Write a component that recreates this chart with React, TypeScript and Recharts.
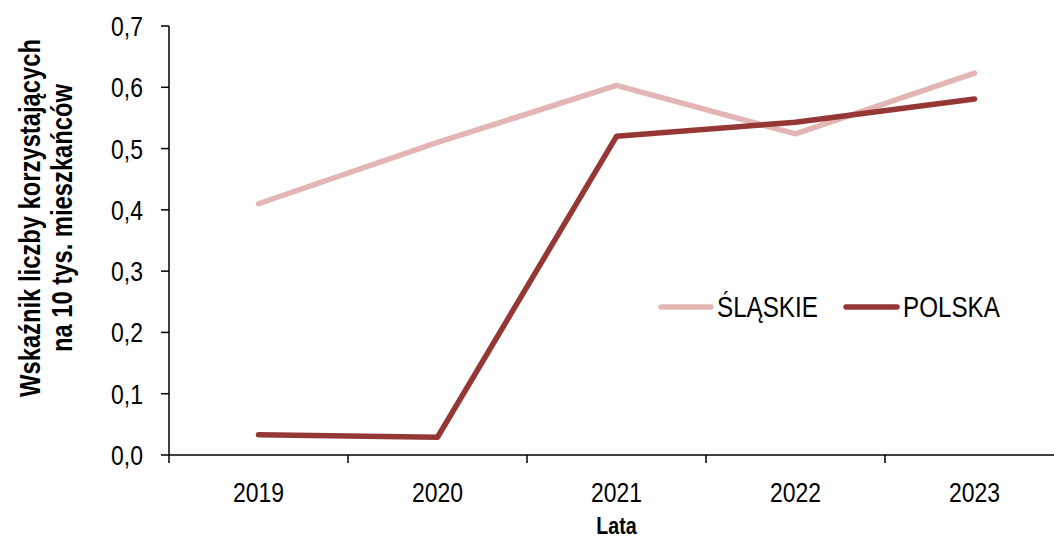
import { Line, LineChart, XAxis, YAxis } from "recharts"

const years = ["2019", "2020", "2021", "2022", "2023"]
const slaskie = [0.41, 0.51, 0.603, 0.524, 0.623]
const polska = [0.033, 0.029, 0.52, 0.543, 0.581]
const yTicks = [0, 0.1, 0.2, 0.3, 0.4, 0.5, 0.6, 0.7]
const seriesNames = ["ŚLĄSKIE", "POLSKA"]

const data = years.map((year, i) => ({ year, slaskie: slaskie[i], polska: polska[i] }))

const FONT = "'Liberation Sans', Arial, sans-serif"
const NARROW = 0.82
const PINK = "#E3B5B4"
const DARK = "#953735"

const W = 1064
const H = 540
const Y_AXIS_W = 169
const BAND = (W - Y_AXIS_W) / years.length

// Arial Narrow look: regular sans squeezed horizontally
const Narrow = ({ x, y, size, anchor = "start", bold = false, rotate = 0, children }: any) => (
	<text
		transform={`translate(${x},${y}) rotate(${rotate}) scale(${NARROW},1)`}
		textAnchor={anchor}
		fontFamily={FONT}
		fontSize={size}
		fontWeight={bold ? "bold" : "normal"}
		fill="#000"
	>
		{children}
	</text>
)

const XTick = (props: any) => {
	const { x, y, payload } = props
	const left = x - BAND / 2
	return (
		<g>
			<line x1={left} y1={y} x2={left} y2={y + 8} stroke="#000" strokeWidth={1.5} />
			<Narrow x={x} y={y + 47} size={28} anchor="middle">
				{payload.value}
			</Narrow>
		</g>
	)
}

const YTick = (props: any) => {
	const { x, y, payload } = props
	return (
		<Narrow x={x} y={y + 10} size={28} anchor="end">
			{payload.value.toFixed(1).replace(".", ",")}
		</Narrow>
	)
}

const YTitle = () => (
	<g>
		<Narrow x={40} y={218} size={29} anchor="middle" bold rotate={-90}>
			Wskaźnik liczby korzystających
		</Narrow>
		<Narrow x={72} y={218} size={29} anchor="middle" bold rotate={-90}>
			na 10 tys. mieszkańców
		</Narrow>
	</g>
)

const XTitle = (props: any) => {
	const { viewBox } = props
	return (
		<Narrow x={viewBox.x + viewBox.width / 2} y={534} size={24} anchor="middle" bold>
			Lata
		</Narrow>
	)
}

const LegendBox = () => (
	<svg width={370} height={32} style={{ position: "absolute", left: 655, top: 291 }}>
		<line x1={6} y1={16} x2={56} y2={16} stroke={PINK} strokeWidth={5.5} strokeLinecap="round" />
		<Narrow x={62} y={26} size={29.5}>
			{seriesNames[0]}
		</Narrow>
		<line x1={191} y1={16} x2={242} y2={16} stroke={DARK} strokeWidth={5.5} strokeLinecap="round" />
		<Narrow x={248} y={26} size={29.5}>
			{seriesNames[1]}
		</Narrow>
	</svg>
)

export default function App() {
	return (
		<div style={{ position: "absolute", left: 0, top: 0, width: 1054, height: 540, overflow: "hidden", background: "#fff" }}>
			<LineChart width={W} height={H} data={data} margin={{ top: 26, right: 0, bottom: 0, left: 0 }}>
				<XAxis
					dataKey="year"
					scale="band"
					height={85}
					tickLine={false}
					tickSize={0}
					tickMargin={0}
					axisLine={{ stroke: "#000", strokeWidth: 1.5 }}
					tick={<XTick />}
					label={<XTitle />}
					interval={0}
				/>
				<YAxis
					width={Y_AXIS_W}
					domain={[0, 0.7]}
					ticks={yTicks}
					tickSize={8}
					tickMargin={18}
					axisLine={{ stroke: "#000", strokeWidth: 1.5 }}
					tickLine={{ stroke: "#000", strokeWidth: 1.5 }}
					tick={<YTick />}
					label={<YTitle />}
					allowDataOverflow
				/>
				<Line dataKey="slaskie" name={seriesNames[0]} stroke={PINK} strokeWidth={5.5} dot={false} strokeLinecap="round" strokeLinejoin="round" isAnimationActive={false} />
				<Line dataKey="polska" name={seriesNames[1]} stroke={DARK} strokeWidth={5.5} dot={false} strokeLinecap="round" strokeLinejoin="round" isAnimationActive={false} />
			</LineChart>
			<LegendBox />
		</div>
	)
}
